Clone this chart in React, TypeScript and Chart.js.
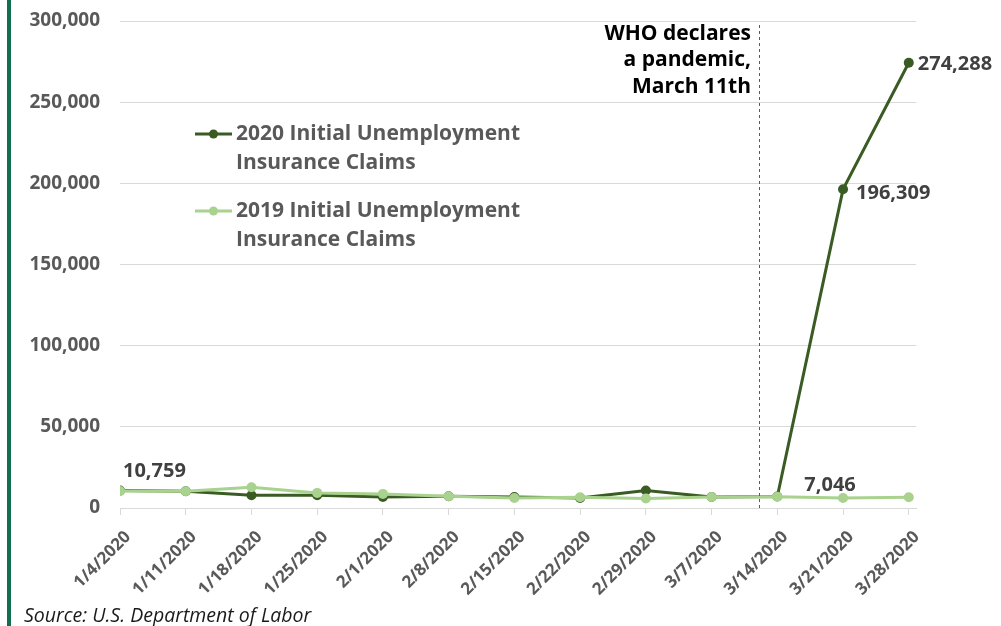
import React, { useEffect, useRef } from "react";
import { Chart, registerables } from "chart.js";

Chart.register(...registerables);

const categories = [
  "1/4/2020", "1/11/2020", "1/18/2020", "1/25/2020", "2/1/2020", "2/8/2020",
  "2/15/2020", "2/22/2020", "2/29/2020", "3/7/2020", "3/14/2020", "3/21/2020", "3/28/2020",
];
const claims2020 = [10759, 10300, 7900, 7900, 6800, 7200, 6800, 6200, 10800, 6800, 7046, 196309, 274288];
const claims2019 = [10400, 10300, 12800, 9300, 8700, 7200, 6200, 6600, 5800, 6800, 7000, 6200, 6600];
const yTicks = [0, 50000, 100000, 150000, 200000, 250000, 300000];
const seriesNames = [
  ["2020 Initial Unemployment", "Insurance Claims"],
  ["2019 Initial Unemployment", "Insurance Claims"],
];
const annotationLines = ["WHO declares", "a pandemic,", "March 11th"];
const annotationAt = 9.72; // March 11th between 3/7 and 3/14
// labelled points: [series (0 = 2020), index]
const labelledPoints: [number, number][] = [[0, 0], [0, 10], [0, 11], [0, 12]];

const DARK = "#3a5b23";
const LIGHT = "#a8d28d";
const FONT = "'Open Sans', 'Noto Sans', sans-serif";

const fmt = (v: number) => v.toLocaleString("en-US");

export default function App() {
  const ref = useRef<HTMLCanvasElement>(null);

  useEffect(() => {
    if (!ref.current) return;
    const seriesData = [claims2020, claims2019];
    const overlay = {
      id: "overlay",
      afterDatasetsDraw(chart: any) {
        const ctx = chart.ctx;
        const xs = chart.scales.x;
        const ys = chart.scales.y;
        ctx.save();
        // dashed vertical line
        const lx = Math.round(xs.getPixelForValue(annotationAt));
        ctx.strokeStyle = "#595959";
        ctx.lineWidth = 1;
        ctx.setLineDash([3, 3]);
        ctx.beginPath();
        ctx.moveTo(lx + 0.5, chart.chartArea.top + 4);
        ctx.lineTo(lx + 0.5, chart.chartArea.bottom);
        ctx.stroke();
        ctx.setLineDash([]);
        // annotation text
        ctx.fillStyle = "#000";
        ctx.font = `bold 21px ${FONT}`;
        ctx.textAlign = "right";
        ctx.textBaseline = "middle";
        annotationLines.forEach((t, i) => ctx.fillText(t, lx - 8, 34 + i * 26.5));
        // data labels
        ctx.fillStyle = "#404040";
        ctx.font = `bold 20px ${FONT}`;
        ctx.textAlign = "left";
        const offs: Record<string, [number, number]> = {
          "0-0": [3, -19], "0-10": [27, -11], "0-11": [13, 4], "0-12": [9, 2],
        };
        labelledPoints.forEach(([s, i]) => {
          const v = seriesData[s][i];
          const px = xs.getPixelForValue(i);
          const py = ys.getPixelForValue(v);
          const [dx, dy] = offs[`${s}-${i}`];
          ctx.fillText(fmt(v), px + dx, py + dy);
        });
        // legend
        const colors = [DARK, LIGHT];
        const legendTop = [134, 211];
        ctx.font = `bold 21px ${FONT}`;
        seriesNames.forEach((lines, k) => {
          const y = legendTop[k];
          ctx.strokeStyle = colors[k];
          ctx.lineWidth = 3;
          ctx.beginPath();
          ctx.moveTo(195, y);
          ctx.lineTo(232, y);
          ctx.stroke();
          ctx.fillStyle = colors[k];
          ctx.beginPath();
          ctx.arc(213.5, y, 4.5, 0, Math.PI * 2);
          ctx.fill();
          ctx.fillStyle = "#595959";
          lines.forEach((t, j) => ctx.fillText(t, 236, y + j * 29.5));
        });
        ctx.restore();
      },
    };

    const chart = new Chart(ref.current, {
      type: "line",
      data: {
        datasets: [
          {
            label: "2020 Initial Unemployment Insurance Claims",
            data: claims2020.map((v, i) => ({ x: i, y: v })),
            borderColor: DARK,
            backgroundColor: DARK,
            borderWidth: 3,
            pointRadius: 5,
            pointBorderWidth: 0,
            tension: 0,
            order: 1,
          },
          {
            label: "2019 Initial Unemployment Insurance Claims",
            data: claims2019.map((v, i) => ({ x: i, y: v })),
            borderColor: LIGHT,
            backgroundColor: LIGHT,
            borderWidth: 3,
            pointRadius: 5,
            pointBorderWidth: 0,
            tension: 0,
            order: 0,
          },
        ],
      },
      options: {
        animation: false,
        responsive: false,
        layout: { padding: { top: 21, right: 85, left: 0, bottom: 0 } },
        plugins: { legend: { display: false }, tooltip: { enabled: false } },
        scales: {
          x: {
            type: "linear",
            min: 0,
            max: 12.11,
            afterBuildTicks: (scale: any) => {
              scale.ticks = categories.map((_, i) => ({ value: i }));
            },
            afterFit: (scale: any) => {
              scale.height = 118;
              scale.paddingLeft = 0;
              scale.paddingRight = 0;
            },
            grid: {
              drawOnChartArea: false,
              drawTicks: true,
              tickLength: 7,
              color: "#d9d9d9",
            },
            border: { display: true, color: "#d9d9d9", width: 1 },
            ticks: {
              autoSkip: false,
              maxRotation: 45,
              minRotation: 45,
              padding: 12,
              labelOffset: 8,
              color: "#595959",
              font: { family: FONT, size: 17, weight: "bold" },
              callback: (v: any) => categories[v as number] ?? "",
            },
          },
          y: {
            min: 0,
            max: 300000,
            afterBuildTicks: (scale: any) => {
              scale.ticks = yTicks.map((v) => ({ value: v }));
            },
            afterFit: (scale: any) => {
              scale.width = 120;
              scale.paddingTop = 0;
              scale.paddingBottom = 0;
            },
            grid: { color: "#d9d9d9", drawTicks: false, lineWidth: 1 },
            border: { display: false },
            ticks: {
              padding: 20,
              color: "#595959",
              font: { family: FONT, size: 19, weight: "bold" },
              callback: (v: any) => fmt(v as number),
            },
          },
        },
      },
      plugins: [overlay],
    } as any);
    return () => chart.destroy();
  }, []);

  return (
    <div style={{ position: "absolute", left: 0, top: 0, width: 1001, height: 626, background: "#fff", overflow: "hidden" }}>
      <div style={{ position: "absolute", left: 7, top: 0, width: 4, height: 626, background: "#116e50" }} />
      <canvas ref={ref} width={1001} height={626} style={{ position: "absolute", left: 0, top: 0, width: 1001, height: 626 }} />
      <div
        style={{
          position: "absolute",
          left: 24,
          top: 603,
          fontFamily: FONT,
          fontStyle: "italic",
          fontSize: 19.5,
          color: "#1a1a1a",
          lineHeight: "24px",
          whiteSpace: "nowrap",
        }}
      >
        Source: U.S. Department of Labor
      </div>
    </div>
  );
}
